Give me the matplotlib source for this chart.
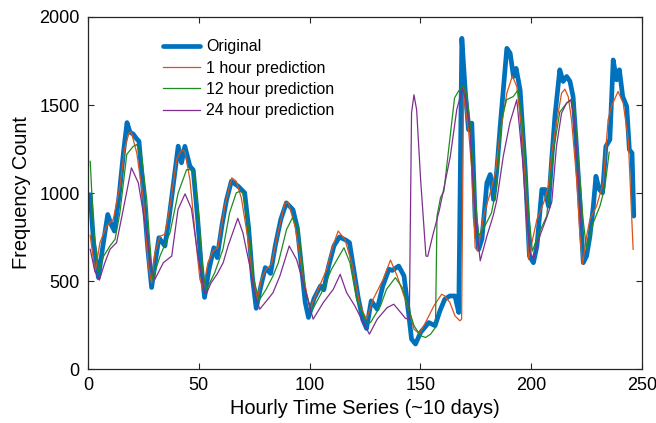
import matplotlib
matplotlib.use("Agg")
import matplotlib.pyplot as plt

plt.rcParams['font.family'] = ['Liberation Sans', 'DejaVu Sans']

# ---------------- data ----------------
x_orig = [1, 2.5, 4.7, 6.5, 8.9, 10.5, 11.9, 14, 16, 17.6,
          19, 20.4, 21.8, 23, 25, 27, 28.7, 30.5, 32, 34.7,
          36.5, 38.5, 40.7, 42.2, 43.7, 46, 47.5, 49.5, 51, 52.6,
          54.5, 56.8, 58.3, 60.5, 62.5, 64.7, 67.7, 70.7, 72.5, 74.2,
          75.9, 78, 80, 82.4, 84.5, 87, 89.5, 92.5, 94.5, 96.5,
          98, 99.5, 102, 104.9, 106.4, 108.5, 111, 113.5, 116.4, 118,
          120, 122, 124, 125.7, 127.8, 130.5, 133, 135.8, 137.3, 140.2,
          142.6, 144.8, 146, 147.8, 150.1, 153.8, 156.6, 158.8, 161, 163.3,
          165.6, 167.3, 168.7, 169.5, 170.2, 171.7, 173.2, 174.7, 176.3, 177.8,
          180, 181.5, 183, 184.5, 186, 187.5, 189, 190.5, 192, 193.2,
          195, 197.3, 199.2, 201, 202.6, 204.8, 206.3, 207.8, 209.3, 210.7,
          212.9, 214.4, 216, 217.5, 218.9, 220.5, 222, 223.5, 225, 226.5,
          228, 229.2, 230.7, 232.2, 233.7, 235.5, 237, 238.5, 239.8, 241.3,
          243.1, 244.3, 245.5, 246.3]
y_orig = [990, 720, 519, 680, 878, 820, 784, 980, 1230, 1400,
          1345, 1335, 1310, 1294, 1000, 680, 463, 620, 746, 699,
          850, 1050, 1266, 1172, 1265, 1152, 1130, 850, 600, 407,
          560, 689, 633, 820, 960, 1067, 1039, 1001, 800, 520,
          345, 470, 576, 543, 700, 850, 944, 905, 800, 560,
          380, 293, 400, 472, 450, 580, 700, 750, 732, 718,
          560, 400, 280, 230, 387, 340, 470, 567, 560, 585,
          529, 302, 170, 142, 208, 264, 246, 330, 397, 415,
          415, 321, 1879, 1718, 1586, 1360, 1397, 860, 680, 740,
          1058, 1105, 963, 1133, 1379, 1600, 1822, 1794, 1662, 1708,
          1586, 1133, 642, 604, 699, 1020, 1020, 925, 1200, 1435,
          1700, 1634, 1662, 1634, 1548, 1250, 944, 604, 642, 755,
          920, 1095, 1020, 1001, 1265, 1303, 1756, 1643, 1700, 1548,
          1492, 1246, 1227, 869]

x_1h = [1, 3.2, 5.4, 8.4, 11.4, 14.4, 16.5, 18.5, 19.5, 22,
        25, 27.2, 28.7, 30.2, 32.5, 34.7, 37, 40, 42.2, 43.7,
        46, 48.3, 50.5, 52, 54.1, 56.4, 58.6, 61.7, 64.9, 66.9,
        69.2, 72.2, 74.4, 76.5, 78.2, 80.4, 82.8, 85.5, 88.9, 90.4,
        93.4, 97.1, 100.2, 103.9, 107.7, 110.5, 112.9, 115.9, 119, 122.7,
        125.7, 128.7, 133.2, 136.5, 139.5, 142.6, 144.8, 147.1, 149.5, 152.3,
        156.1, 159.6, 161, 163.3, 165.6, 167.8, 168.6, 169.5, 170.2, 171.7,
        173.2, 174.7, 175.8, 178.5, 181.5, 183.8, 186, 189, 191.5, 193.5,
        195.8, 197.3, 198.8, 200.3, 202.6, 205.6, 207.8, 209.3, 211.4, 213.7,
        215.2, 216.7, 218.2, 220.5, 222, 223.2, 225, 226.5, 229.5, 232.5,
        234.7, 236.2, 239.2, 241.5, 243.8, 246]
y_1h = [759, 549, 718, 812, 850, 1039, 1250, 1341, 1348, 1228,
        963, 585, 491, 661, 755, 765, 925, 1190, 1245, 1235,
        1076, 774, 510, 455, 604, 670, 689, 925, 1086, 1067,
        972, 737, 510, 400, 510, 567, 595, 760, 944, 944,
        812, 529, 340, 453, 567, 700, 784, 737, 604, 359,
        283, 397, 510, 619, 529, 415, 340, 227, 200, 264,
        359, 425, 415, 378, 302, 274, 283, 1600, 1492, 1360,
        1133, 690, 670, 869, 1001, 1114, 1341, 1567, 1665, 1605,
        1360, 1076, 623, 718, 850, 944, 1039, 1227, 1397, 1567,
        1590, 1548, 1416, 1076, 755, 595, 755, 850, 925, 1058,
        1416, 1492, 1577, 1511, 1303, 680]

x_12h = [1, 2.5, 4.7, 7, 9.9, 12.2, 14.4, 17.5, 20.4, 22,
         24.2, 26.5, 27.5, 29.2, 32.5, 37, 40.7, 44.5, 47.4, 49.6,
         51.9, 53.4, 57.2, 60.9, 63.9, 66.9, 68.7, 69.9, 72.2, 74.6,
         77.2, 80.4, 83.5, 85.9, 89.6, 92.3, 94.9, 96.5, 97.9, 100.9,
         105.4, 109.9, 115.5, 118.2, 121.2, 125.5, 127.5, 130.2, 132, 134.7,
         138.7, 141.8, 144.8, 147.1, 150.1, 152.3, 154.6, 156.8, 157.5, 159.1,
         160.6, 163.5, 165.4, 167.1, 169.3, 170.8, 172.3, 173.8, 176.2, 179.1,
         182.1, 184.4, 186.6, 188.9, 191.9, 194.1, 196, 198.6, 200.5, 203.6,
         207, 209.9, 212.9, 216, 218.2, 219.7, 220.5, 222, 223.4, 225,
         228, 231, 233.2, 235.2]
y_12h = [1180, 800, 552, 640, 699, 737, 888, 1220, 1265, 1275,
         1210, 963, 780, 510, 642, 774, 1001, 1133, 1130, 925,
         548, 450, 548, 680, 888, 1001, 1010, 1001, 831, 520,
         390, 453, 529, 604, 793, 860, 802, 620, 453, 328,
         434, 567, 689, 604, 397, 272, 264, 321, 359, 453,
         519, 463, 340, 246, 189, 179, 198, 236, 869, 975,
         1010, 1330, 1540, 1577, 1610, 1567, 1416, 1133, 755, 812,
         888, 1039, 1416, 1530, 1548, 1586, 1400, 925, 670, 774,
         869, 1227, 1460, 1511, 1530, 1454, 1303, 1076, 850, 680,
         831, 925, 1030, 1232]

x_24h = [1, 3, 5.1, 7.5, 9.9, 12.9, 15.9, 19.6, 22.7, 25.7,
         28.7, 30.2, 34, 37.8, 40.6, 43.8, 46.7, 49.6, 52.6, 53.5,
         55.6, 58.3, 61, 63.2, 67.6, 69.9, 73, 75.9, 77.5, 81.2,
         83.5, 86.6, 90.8, 94.1, 97.1, 101.6, 106.2, 110.7, 113.8, 116.7,
         120.4, 124.2, 127, 130.5, 135, 138, 141.1, 143.3, 145, 146,
         147.1, 148.3, 150.1, 152.5, 153.3, 155.5, 158.5, 160.8, 163.5, 166.4,
         169, 170.8, 172.3, 173.8, 175.3, 177, 180, 182.8, 184.5, 187.4,
         190.4, 193.5, 196, 198, 199.5, 201, 204, 207, 209.3, 211.4,
         213.7, 216, 217.8, 219.5, 221, 222.5]
y_24h = [680, 560, 505, 600, 680, 718, 906, 1143, 1058, 831,
         567, 510, 604, 642, 906, 995, 910, 642, 430, 430,
         491, 540, 604, 699, 856, 774, 585, 397, 340, 397,
         434, 529, 699, 623, 491, 283, 378, 453, 538, 434,
         359, 264, 198, 283, 349, 368, 321, 287, 283, 1454,
         1558, 1473, 1076, 642, 640, 755, 900, 1039, 1209, 1473,
         1596, 1511, 1360, 1039, 812, 615, 755, 869, 960, 1209,
         1400, 1530, 1200, 850, 660, 623, 760, 860, 950, 1265,
         1454, 1511, 1530, 1420, 1150, 800]

labels = ["Original", "1 hour prediction", "12 hour prediction", "24 hour prediction"]
x_ticks = [0, 50, 100, 150, 200, 250]
y_ticks = [0, 500, 1000, 1500, 2000]

# ---------------- figure ----------------
fig = plt.figure(figsize=(6.56, 4.23), dpi=100)
ax = fig.add_axes([88/656, 1 - 369/423, (642-88)/656, (369-17)/423])

ax.plot(x_orig, y_orig, color='#0072BD', lw=3.4, label=labels[0],
        solid_joinstyle='round', solid_capstyle='round')
ax.plot(x_1h, y_1h, color='#D95319', lw=0.9, label=labels[1])
ax.plot(x_12h, y_12h, color='#1E8C1E', lw=0.9, label=labels[2])
ax.plot(x_24h, y_24h, color='#7E2F8E', lw=0.9, label=labels[3])

ax.set_xlim(0, 250)
ax.set_ylim(0, 2000)
ax.set_xticks(x_ticks)
ax.set_yticks(y_ticks)
ax.tick_params(direction='in', top=True, right=True, length=4, width=0.8,
               labelsize=13, colors='#262626', labelcolor='black', pad=6)
for s in ax.spines.values():
    s.set_color('#262626')
    s.set_linewidth(0.9)

ax.set_xlabel("Hourly Time Series (~10 days)", fontsize=14.4, labelpad=3)
ax.set_ylabel("Frequency Count", fontsize=14.4, labelpad=6)

leg = ax.legend(loc='upper left', bbox_to_anchor=(0.135, 0.937), frameon=False,
                fontsize=11.5, handlelength=2.3, handletextpad=0.4,
                labelspacing=0.4, borderpad=0, borderaxespad=0)

fig.savefig("out.png", dpi=100)
